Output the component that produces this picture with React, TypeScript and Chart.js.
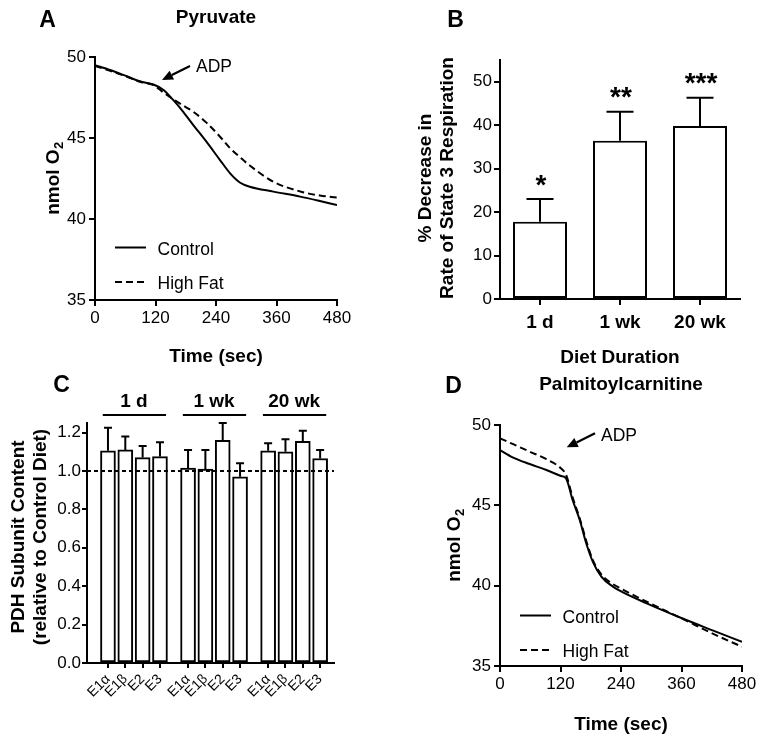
import React, { useEffect, useRef } from "react";
import { Chart, registerables } from "chart.js";

Chart.register(...registerables);

const FONT = '"Liberation Sans", Arial, Helvetica, sans-serif';
const INK = "#000000";

// ---------- Panel A : Pyruvate (nmol O2 vs time) ----------
const pyruvateTime = [0, 30, 60, 89, 116, 136, 155, 175, 195, 221, 248, 268, 288, 307, 354, 407, 446, 480];
const pyruvateControl = [49.5, 49.2, 48.85, 48.5, 48.3, 47.96, 47.35, 46.62, 45.8, 44.77, 43.64, 42.82, 42.24, 41.99, 41.69, 41.38, 41.11, 40.86];
const pyruvateHighFat = [49.45, 49.15, 48.82, 48.47, 48.27, 47.8, 47.4, 47.0, 46.62, 45.95, 45.08, 44.37, 43.8, 43.3, 42.3, 41.7, 41.45, 41.32];

// ---------- Panel B : % decrease in state 3 respiration ----------
const durations = ["1 d", "1 wk", "20 wk"];
const state3Decrease = [17.8, 36.4, 39.8];
const state3Sem = [5.2, 6.7, 6.5];
const significance = ["*", "**", "***"];

// ---------- Panel C : PDH subunit content ----------
const subunits = ["E1α", "E1β", "E2", "E3"];
const pdh1d = [1.105, 1.11, 1.07, 1.075];
const pdh1dSem = [0.12, 0.07, 0.06, 0.075];
const pdh1wk = [1.015, 1.01, 1.16, 0.97];
const pdh1wkSem = [0.095, 0.1, 0.09, 0.07];
const pdh20wk = [1.105, 1.1, 1.155, 1.065];
const pdh20wkSem = [0.04, 0.065, 0.055, 0.045];

// ---------- Panel D : Palmitoylcarnitine ----------
const palmTime = [0, 25, 59, 92, 121, 131, 144, 158, 171, 184, 201, 224, 241, 291, 361, 423, 480];
const palmControl = [48.44, 47.99, 47.57, 47.2, 46.83, 46.68, 45.33, 44.1, 42.64, 41.5, 40.56, 39.94, 39.63, 38.9, 37.97, 37.2, 36.5];
const palmHighFat = [49.17, 48.82, 48.34, 47.87, 47.3, 46.9, 45.5, 44.2, 42.8, 41.6, 40.7, 40.1, 39.8, 39.0, 37.95, 37.0, 36.2];

// ---------- tick labels ----------
const timeTicks = [0, 120, 240, 360, 480];
const o2Ticks = [35, 40, 45, 50];
const decreaseTicks = [0, 10, 20, 30, 40, 50];
const pdhTicks = [0, 0.2, 0.4, 0.6, 0.8, 1.0, 1.2];

// ---------- drawing helpers ----------
function fontStr(size: number, bold = false) {
  return `${bold ? "bold " : ""}${size}px ${FONT}`;
}

function drawText(ctx: CanvasRenderingContext2D, str: string, x: number, y: number, size: number, bold: boolean, align: CanvasTextAlign = "center", rotate = 0) {
  ctx.save();
  ctx.translate(x, y);
  if (rotate) ctx.rotate(rotate);
  ctx.font = fontStr(size, bold);
  ctx.fillStyle = INK;
  ctx.textAlign = align;
  ctx.textBaseline = "alphabetic";
  ctx.fillText(str, 0, 0);
  ctx.restore();
}

function drawO2Title(ctx: CanvasRenderingContext2D, baseX: number, centerY: number) {
  ctx.save();
  ctx.translate(baseX, centerY);
  ctx.rotate(-Math.PI / 2);
  ctx.fillStyle = INK;
  ctx.textBaseline = "alphabetic";
  ctx.textAlign = "left";
  const main = "nmol O";
  ctx.font = fontStr(19, true);
  const wMain = ctx.measureText(main).width;
  ctx.font = fontStr(13, true);
  const wSub = ctx.measureText("2").width;
  const start = -(wMain + wSub) / 2;
  ctx.font = fontStr(19, true);
  ctx.fillText(main, start, 0);
  ctx.font = fontStr(13, true);
  ctx.fillText("2", start + wMain + 0.5, 4);
  ctx.restore();
}

function drawArrow(ctx: CanvasRenderingContext2D, x0: number, y0: number, x1: number, y1: number) {
  const ang = Math.atan2(y1 - y0, x1 - x0);
  const head = 11;
  const half = 5;
  const bx = x1 - head * Math.cos(ang);
  const by = y1 - head * Math.sin(ang);
  ctx.save();
  ctx.strokeStyle = INK;
  ctx.fillStyle = INK;
  ctx.lineWidth = 2.2;
  ctx.beginPath();
  ctx.moveTo(x0, y0);
  ctx.lineTo(bx, by);
  ctx.stroke();
  ctx.beginPath();
  ctx.moveTo(x1, y1);
  ctx.lineTo(bx + half * Math.sin(ang), by - half * Math.cos(ang));
  ctx.lineTo(bx - half * Math.sin(ang), by + half * Math.cos(ang));
  ctx.closePath();
  ctx.fill();
  ctx.restore();
}

function hLine(ctx: CanvasRenderingContext2D, x0: number, x1: number, y: number, dash: number[] = [], lw = 2) {
  ctx.save();
  ctx.strokeStyle = INK;
  ctx.lineWidth = lw;
  ctx.setLineDash(dash);
  ctx.beginPath();
  ctx.moveTo(x0, y);
  ctx.lineTo(x1, y);
  ctx.stroke();
  ctx.restore();
}

function errorBar(ctx: CanvasRenderingContext2D, x: number, yBar: number, yTop: number, cap: number) {
  ctx.save();
  ctx.strokeStyle = INK;
  ctx.lineWidth = 2;
  ctx.beginPath();
  ctx.moveTo(x, yBar);
  ctx.lineTo(x, yTop);
  ctx.moveTo(x - cap / 2, yTop);
  ctx.lineTo(x + cap / 2, yTop);
  ctx.stroke();
  ctx.restore();
}

// ---------- axis helpers ----------
const axisBorder = { display: true, color: INK, width: 2 };
const tickGrid = (len: number) => ({
  display: true,
  drawOnChartArea: false,
  drawTicks: true,
  tickLength: len,
  color: INK,
  lineWidth: 2,
  offset: false,
});

function valueAxis(min: number, max: number, ticks: number[], width: number, fmt: (v: number) => string, pad = 3, len = 6) {
  return {
    type: "linear",
    position: "left",
    min,
    max,
    afterBuildTicks: (s: any) => {
      s.ticks = ticks.map((v) => ({ value: v }));
    },
    afterFit: (s: any) => {
      s.width = width;
    },
    border: axisBorder,
    grid: tickGrid(len),
    ticks: { color: INK, font: { family: FONT, size: 17 }, padding: pad, callback: (v: any) => fmt(Number(v)) },
  };
}

function timeAxis(height: number) {
  return {
    type: "linear",
    position: "bottom",
    min: 0,
    max: 480,
    afterBuildTicks: (s: any) => {
      s.ticks = timeTicks.map((v) => ({ value: v }));
    },
    afterFit: (s: any) => {
      s.height = height;
    },
    border: axisBorder,
    grid: tickGrid(6),
    ticks: {
      color: INK,
      font: { family: FONT, size: 17 },
      padding: 2,
      maxRotation: 0,
      minRotation: 0,
      autoSkip: false,
      callback: (v: any) => String(v),
    },
  };
}

const baseOptions = {
  responsive: false,
  animation: false,
  devicePixelRatio: 1,
  events: [],
};

// ---------- trace panels (A, D) ----------
type TraceDecor = {
  letter: string;
  letterX: number;
  letterBase: number;
  title: string;
  titleBase: number;
  yTitleBase: number;
  xTitleBase: number;
  adpTail: [number, number];
  adpTip: [number, number];
  adpTextBase: number;
};

function traceConfig(time: number[], control: number[], highFat: number[], yWidth: number, xHeight: number, padRight: number, padTop: number, d: TraceDecor) {
  const series = (vals: number[]) => time.map((t, i) => ({ x: t, y: vals[i] }));
  return {
    type: "line",
    data: {
      datasets: [
        { label: "Control", data: series(control), borderColor: INK, borderWidth: 2, borderDash: [], pointRadius: 0, cubicInterpolationMode: "monotone", fill: false, borderJoinStyle: "round" },
        { label: "High Fat", data: series(highFat), borderColor: INK, borderWidth: 2, borderDash: [7, 4], pointRadius: 0, cubicInterpolationMode: "monotone", fill: false },
      ],
    },
    options: {
      ...baseOptions,
      layout: { padding: { left: 0, right: padRight, top: padTop, bottom: 0 } },
      scales: {
        x: timeAxis(xHeight),
        y: valueAxis(35, 50, o2Ticks, yWidth, (v) => String(v), 3, 6),
      },
      plugins: { legend: { display: false }, tooltip: { enabled: false }, title: { display: false } },
    },
    plugins: [
      {
        id: "traceDecor",
        afterDraw: (chart: any) => {
          const { ctx, chartArea: a, scales } = chart;
          const x = scales.x;
          const y = scales.y;
          const cx = (a.left + a.right) / 2;
          drawText(ctx, d.letter, d.letterX, d.letterBase, 23, true);
          drawText(ctx, d.title, cx, d.titleBase, 19, true);
          drawO2Title(ctx, d.yTitleBase, (a.top + a.bottom) / 2);
          drawText(ctx, "Time (sec)", cx, d.xTitleBase, 19, true);
          const tx = x.getPixelForValue(d.adpTail[0]);
          const ty = y.getPixelForValue(d.adpTail[1]);
          drawArrow(ctx, tx, ty, x.getPixelForValue(d.adpTip[0]), y.getPixelForValue(d.adpTip[1]));
          drawText(ctx, "ADP", tx + 6, d.adpTextBase, 17.5, false, "left");
          chart.data.datasets.forEach((ds: any, i: number) => {
            const ly = a.top + 190.5 + i * 34.5;
            hLine(ctx, a.left + 20, a.left + 51, ly, ds.borderDash, 2);
            drawText(ctx, ds.label, a.left + 62.5, ly + 7, 17.5, false, "left");
          });
        },
      },
    ],
  };
}

const makeA = () =>
  traceConfig(pyruvateTime, pyruvateControl, pyruvateHighFat, 95, 70, 43, 57, {
    letter: "A",
    letterX: 47.5,
    letterBase: 26.5,
    title: "Pyruvate",
    titleBase: 22.5,
    yTitleBase: 59,
    xTitleBase: 361.5,
    adpTail: [188.4, 49.44],
    adpTip: [132.9, 48.58],
    adpTextBase: 71.7,
  });

const makeD = () =>
  traceConfig(palmTime, palmControl, palmHighFat, 120, 75, 23, 55, {
    letter: "D",
    letterX: 73.5,
    letterBase: 23.3,
    title: "Palmitoylcarnitine",
    titleBase: 20,
    yTitleBase: 80.3,
    xTitleBase: 360,
    adpTail: [188.4, 49.48],
    adpTip: [132.3, 48.61],
    adpTextBase: 70.7,
  });

// ---------- panel B ----------
const makeB = () => ({
  type: "bar",
  data: {
    labels: durations,
    datasets: [
      {
        data: state3Decrease,
        backgroundColor: "#ffffff",
        borderColor: INK,
        borderWidth: 2,
        borderSkipped: false,
        barPercentage: 0.675,
        categoryPercentage: 1,
      },
    ],
  },
  options: {
    ...baseOptions,
    layout: { padding: { left: 0, right: 25, top: 60, bottom: 0 } },
    scales: {
      x: {
        type: "category",
        afterFit: (s: any) => {
          s.height = 71;
        },
        border: axisBorder,
        grid: tickGrid(6),
        ticks: { color: INK, font: { family: FONT, size: 19, weight: "bold" }, padding: 6, maxRotation: 0, minRotation: 0, autoSkip: false },
      },
      y: valueAxis(0, 55, decreaseTicks, 120, (v) => String(v), 2, 6),
    },
    plugins: { legend: { display: false }, tooltip: { enabled: false } },
  },
  plugins: [
    {
      id: "bDecor",
      afterDatasetsDraw: (chart: any) => {
        const { ctx, scales } = chart;
        const meta = chart.getDatasetMeta(0);
        meta.data.forEach((bar: any, i: number) => {
          const top = scales.y.getPixelForValue(state3Decrease[i] + state3Sem[i]);
          errorBar(ctx, bar.x, scales.y.getPixelForValue(state3Decrease[i]), top, 27);
          drawText(ctx, significance[i], bar.x + 1, top - 5.5, 28, true);
        });
      },
      afterDraw: (chart: any) => {
        const { ctx, chartArea: a } = chart;
        const cx = (a.left + a.right) / 2;
        drawText(ctx, "B", 75.5, 27.3, 23, true);
        drawText(ctx, "Diet Duration", cx, 363.3, 19, true);
        const cy = 178;
        drawText(ctx, "% Decrease in", 51, cy, 19, true, "center", -Math.PI / 2);
        drawText(ctx, "Rate of State 3 Respiration", 73, cy, 19, true, "center", -Math.PI / 2);
      },
    },
  ],
});

// ---------- panel C ----------
const GROUP_STEP = 4.62;
const pdhGroups = [pdh1d, pdh1wk, pdh20wk];
const pdhGroupSems = [pdh1dSem, pdh1wkSem, pdh20wkSem];

const makeC = () => {
  const points = pdhGroups.flatMap((vals, g) => vals.map((v, j) => ({ x: g * GROUP_STEP + j, y: v })));
  const sems = pdhGroupSems.flat();
  return {
    type: "bar",
    data: {
      datasets: [
        {
          data: points,
          backgroundColor: "#ffffff",
          borderColor: INK,
          borderWidth: 2,
          borderSkipped: false,
          barThickness: 15,
        },
      ],
    },
    options: {
      ...baseOptions,
      layout: { padding: { left: 0, right: 46, top: 53, bottom: 0 } },
      scales: {
        x: {
          type: "linear",
          position: "bottom",
          offset: false,
          min: -1.21,
          max: 13.04,
          afterBuildTicks: (s: any) => {
            s.ticks = points.map((p) => ({ value: p.x }));
          },
          afterFit: (s: any) => {
            s.height = 78;
          },
          border: axisBorder,
          grid: tickGrid(5),
          ticks: {
            color: INK,
            font: { family: FONT, size: 14 },
            padding: 3,
            minRotation: 45,
            maxRotation: 45,
            autoSkip: false,
            callback: (_v: any, i: number) => subunits[i % subunits.length],
          },
        },
        y: valueAxis(0, 1.25, pdhTicks, 87, (v) => v.toFixed(1), 1, 5),
      },
      plugins: { legend: { display: false }, tooltip: { enabled: false } },
    },
    plugins: [
      {
        id: "cDecor",
        afterDatasetsDraw: (chart: any) => {
          const { ctx, chartArea: a, scales } = chart;
          const y = scales.y;
          hLine(ctx, a.left, a.right, y.getPixelForValue(1.0), [4, 3], 2);
          const meta = chart.getDatasetMeta(0);
          meta.data.forEach((bar: any, i: number) => {
            errorBar(ctx, bar.x, y.getPixelForValue(points[i].y), y.getPixelForValue(points[i].y + sems[i]), 8);
          });
        },
        afterDraw: (chart: any) => {
          const { ctx, scales } = chart;
          const x = scales.x;
          drawText(ctx, "C", 61.5, 21.7, 23, true);
          durations.forEach((label, g) => {
            const g0 = g * GROUP_STEP;
            const cx = x.getPixelForValue(g0 + 1.5);
            drawText(ctx, label, cx, 36.7, 19, true);
            hLine(ctx, x.getPixelForValue(g0 - 0.3), x.getPixelForValue(g0 + 3.35), 45, [], 2);
          });
          const cy = 167;
          drawText(ctx, "PDH Subunit Content", 23.6, cy, 19, true, "center", -Math.PI / 2);
          drawText(ctx, "(relative to Control Diet)", 46, cy, 19, true, "center", -Math.PI / 2);
        },
      },
    ],
  };
};

// ---------- React ----------
type PanelProps = { left: number; top: number; width: number; height: number; make: () => any };

function Panel({ left, top, width, height, make }: PanelProps) {
  const ref = useRef<HTMLCanvasElement>(null);
  useEffect(() => {
    const chart = new Chart(ref.current as HTMLCanvasElement, make());
    return () => chart.destroy();
  }, []);
  return (
    <canvas
      ref={ref}
      width={width}
      height={height}
      style={{ position: "absolute", left, top, width, height, display: "block" }}
    />
  );
}

export default function App() {
  return (
    <div style={{ position: "absolute", left: 0, top: 0, width: 765, height: 741, background: "#ffffff", overflow: "hidden" }}>
      <Panel left={0} top={0} width={380} height={370} make={makeA} />
      <Panel left={380} top={0} width={385} height={370} make={makeB} />
      <Panel left={0} top={370} width={380} height={371} make={makeC} />
      <Panel left={380} top={370} width={385} height={371} make={makeD} />
    </div>
  );
}
